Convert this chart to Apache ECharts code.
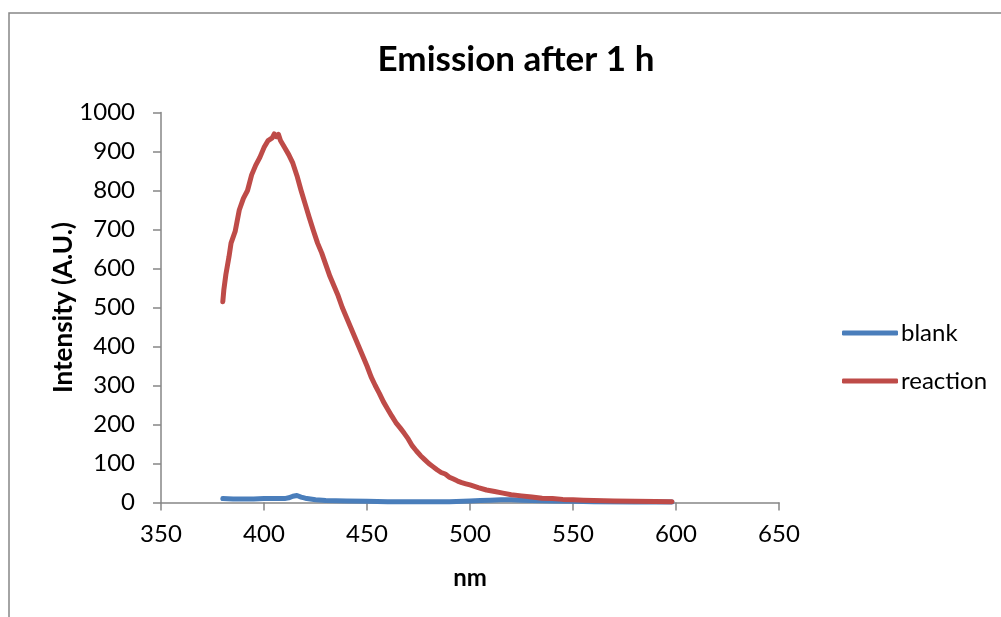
<!DOCTYPE html>
<html>
<head>
<meta charset="utf-8">
<script src="https://cdn.jsdelivr.net/npm/echarts@6/dist/echarts.min.js"></script>
<style>
  html, body { margin: 0; padding: 0; background: #fff; }
  #chart { width: 1001px; height: 617px; }
</style>
</head>
<body>
<div id="chart"></div>
<script>
const reactionNm = [380, 380.5, 381.5, 383, 384, 386, 388, 390, 392, 394, 396, 398, 400, 402, 404, 405, 406, 407, 408, 410,
  412, 414, 416, 418, 420, 422, 424, 426, 428, 430, 432, 434, 436, 438, 440, 442, 444, 446, 448, 450,
  452, 454, 456, 458, 460, 462, 464, 466, 468, 470, 472, 474, 476, 478, 480, 482, 484, 486, 488, 490,
  492, 494, 496, 498, 500, 504, 508, 512, 516, 520, 525, 530, 535, 540, 545, 550, 555, 560, 570, 580, 590, 598]
const reactionVal = [515, 545, 585, 630, 665, 695, 750, 780, 800, 840, 865, 885, 910, 928, 935, 945, 938, 944, 928, 910,
  892, 870, 838, 800, 765, 730, 697, 665, 640, 610, 580, 555, 530, 500, 475, 450, 425, 400, 375, 350,
  322, 300, 280, 258, 240, 222, 205, 192, 178, 163, 145, 132, 120, 110, 100, 92, 84, 77, 73, 65,
  60, 55, 51, 48, 45, 38, 32, 28, 24, 20, 17, 14, 11, 10, 8, 7, 6, 5, 4, 3, 2.5, 2]

const blankNm = [380, 385, 390, 395, 400, 405, 410, 412, 414, 416, 418, 420, 425, 430, 440, 450, 460, 470, 480, 490,
  500, 505, 510, 515, 520, 525, 530, 540, 550, 560, 580, 598]
const blankVal = [10, 9, 9, 9, 10, 10, 10, 12, 16, 18, 14, 11, 7, 5, 4, 3, 2, 2, 2, 2,
  4, 5, 6, 7, 7, 6, 5, 4, 3, 2, 1, 1]

const pair = (xs, ys) => xs.map((x, i) => [x, ys[i]])

const FONT = 'Lato'
const axisGrey = '#868686'

const chart = echarts.init(document.getElementById('chart'))
chart.setOption({
  animation: false,
  backgroundColor: '#fff',
  title: {
    text: 'Emission after 1 h',
    left: 511,
    top: 37,
    textAlign: 'center',
    textStyle: { fontFamily: FONT, fontSize: 35, fontWeight: 'bold', color: '#000' }
  },
  legend: {
    orient: 'vertical',
    left: 837,
    top: 316,
    itemWidth: 56,
    itemHeight: 5,
    itemGap: 24,
    icon: 'roundRect',
    textStyle: { fontFamily: FONT, fontSize: 24, color: '#000', padding: [0, 0, 0, -2] },
    data: ['blank', 'reaction']
  },
  grid: { left: 161, right: 222, top: 112.5, bottom: 114.5 },
  xAxis: {
    type: 'value',
    min: 350,
    max: 650,
    interval: 50,
    name: 'nm',
    nameLocation: 'middle',
    nameGap: 64,
    nameMoveOverlap: false,
    nameTextStyle: { fontFamily: FONT, fontSize: 24, fontWeight: 'bold', color: '#000' },
    axisLine: { show: true, lineStyle: { color: axisGrey, width: 1.5 } },
    axisTick: { show: true, length: 8, lineStyle: { color: axisGrey, width: 1.5 } },
    axisLabel: { fontFamily: FONT, fontSize: 24, color: '#000', margin: 20 },
    splitLine: { show: false }
  },
  yAxis: {
    type: 'value',
    min: 0,
    max: 1000,
    interval: 100,
    name: 'Intensity (A.U.)',
    nameLocation: 'middle',
    nameGap: 84,
    nameMoveOverlap: false,
    nameTextStyle: { fontFamily: FONT, fontSize: 26, fontWeight: 'bold', color: '#000' },
    axisLine: { show: true, lineStyle: { color: axisGrey, width: 1.5 } },
    axisTick: { show: true, length: 8, lineStyle: { color: axisGrey, width: 1.5 } },
    axisLabel: { fontFamily: FONT, fontSize: 24, color: '#000', margin: 26, formatter: (v) => String(v) },
    splitLine: { show: false }
  },
  graphic: [{
    type: 'rect',
    shape: { x: 9, y: 13, width: 1100, height: 700 },
    style: { fill: 'none', stroke: axisGrey, lineWidth: 1.5 },
    silent: true
  }],
  series: [
    {
      name: 'blank',
      type: 'line',
      data: pair(blankNm, blankVal),
      showSymbol: false,
      smooth: false,
      color: '#4a7ebb',
      lineStyle: { color: '#4a7ebb', width: 5, cap: 'round', join: 'round' }
    },
    {
      name: 'reaction',
      type: 'line',
      data: pair(reactionNm, reactionVal),
      showSymbol: false,
      smooth: false,
      color: '#be4b48',
      lineStyle: { color: '#be4b48', width: 5, cap: 'round', join: 'round' }
    }
  ]
})
</script>
</body>
</html>
